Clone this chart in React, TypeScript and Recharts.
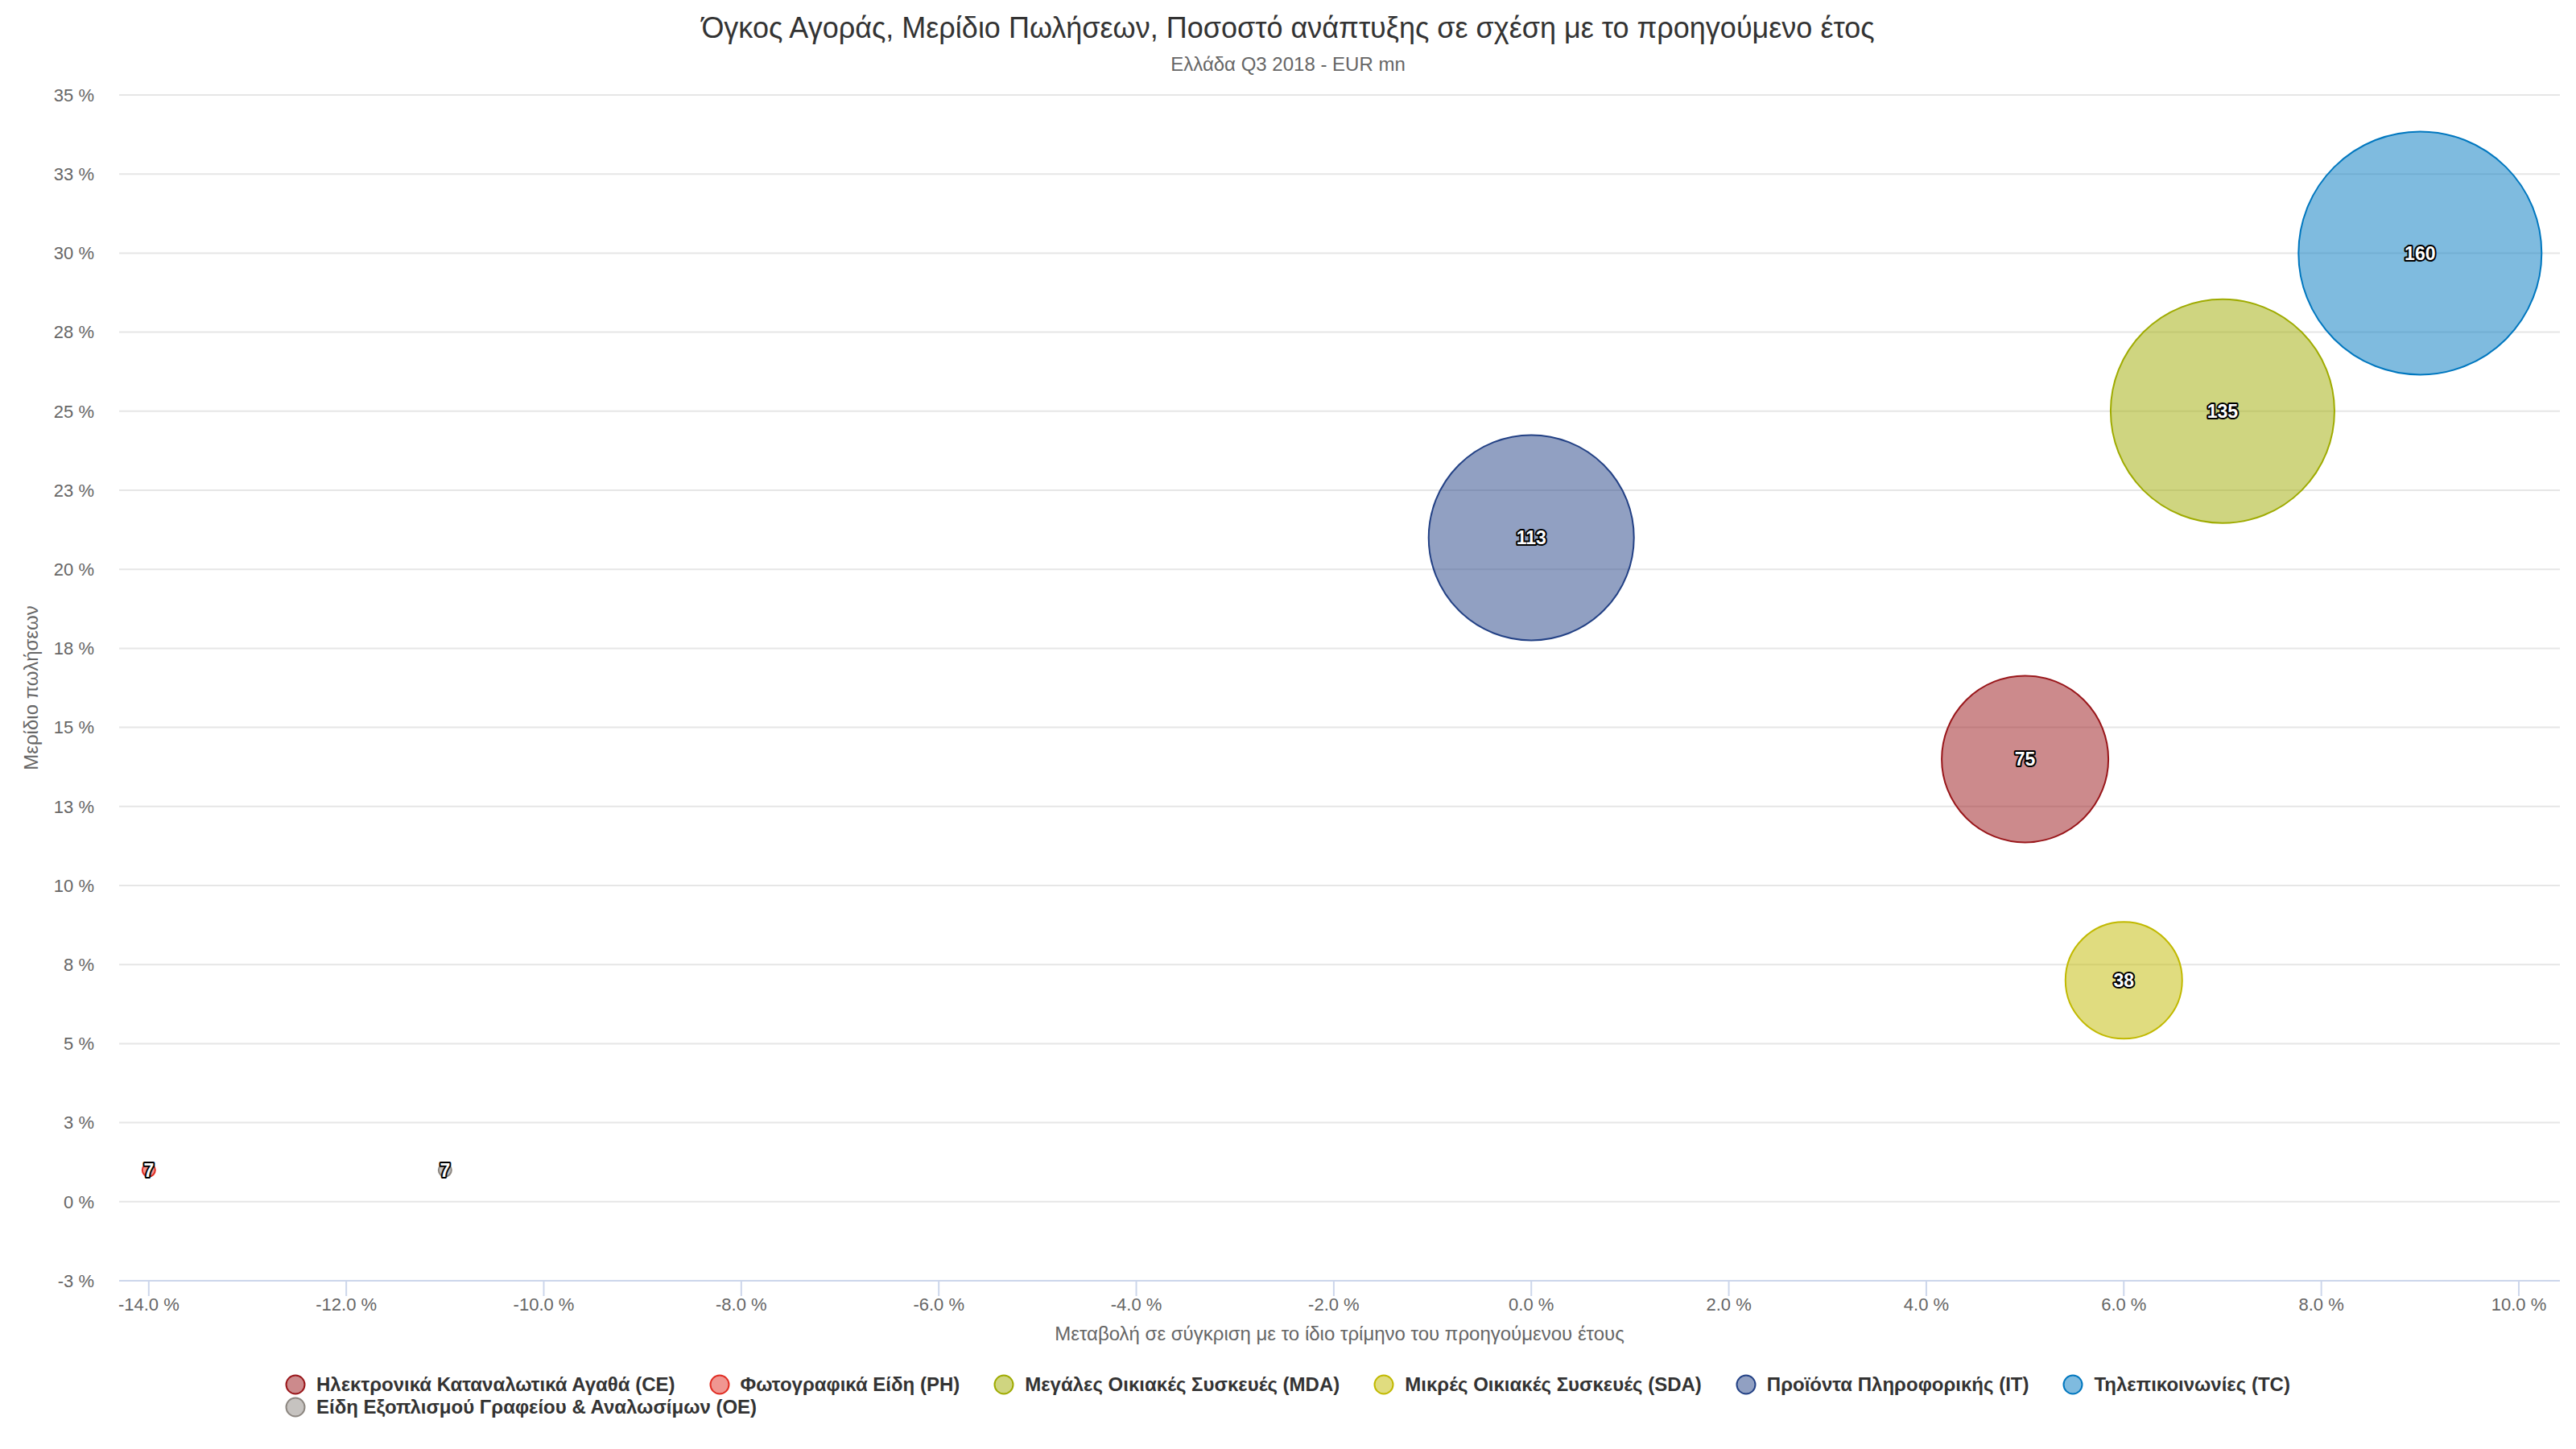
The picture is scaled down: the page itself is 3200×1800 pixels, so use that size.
import React from 'react';
import { ScatterChart, Scatter, XAxis, YAxis, ZAxis, CartesianGrid, Legend, LabelList } from 'recharts';

// ---- data ----
const categories = [
  'Ηλεκτρονικά Καταναλωτικά Αγαθά (CE)',
  'Φωτογραφικά Είδη (PH)',
  'Μεγάλες Οικιακές Συσκευές (MDA)',
  'Μικρές Οικιακές Συσκευές (SDA)',
  'Προϊόντα Πληροφορικής (IT)',
  'Τηλεπικοινωνίες (TC)',
  'Είδη Εξοπλισμού Γραφείου & Αναλωσίμων (OE)',
];
// change vs same quarter of previous year (%)
const growth = [5, -14, 7, 6, 0, 9, -11];
// sales share (%)
const share = [14, 1, 25, 7, 21, 30, 1];
// market volume (EUR mn)
const volume = [75, 7, 135, 38, 113, 160, 7];
const colors = ['#99161a', '#e12d23', '#9fab01', '#c1b900', '#234185', '#0077bf', '#8d8781'];

const xTicks = [-14, -12, -10, -8, -6, -4, -2, 0, 2, 4, 6, 8, 10];
const yTicks = [-2.5, 0, 2.5, 5, 7.5, 10, 12.5, 15, 17.5, 20, 22.5, 25, 27.5, 30, 32.5, 35];

const title = 'Όγκος Αγοράς, Μερίδιο Πωλήσεων, Ποσοστό ανάπτυξης σε σχέση με το προηγούμενο έτος';
const subtitle = 'Ελλάδα Q3 2018 - EUR mn';
const xTitle = 'Μεταβολή σε σύγκριση με το ίδιο τρίμηνο του προηγούμενου έτους';
const yTitle = 'Μερίδιο πωλήσεων';

const FONT = '"Liberation Sans", Arial, Helvetica, sans-serif';
const MIN_D = 16;
const MAX_D = 302;
const Z_LO = 100;
const Z_HI = 1100;

const seriesData = categories.map((name, i) => ({
  name,
  color: colors[i],
  data: [{ x: growth[i], y: share[i], z: volume[i] }],
}));

const Bubble = (props: any) => {
  const { cx, cy, color } = props;
  let size = props.size;
  if (size === undefined || size === null) {
    const w = props.width || 0;
    size = Math.PI * (w / 2) * (w / 2);
  }
  const pos = Math.max(0, Math.min(1, (size - Z_LO) / (Z_HI - Z_LO)));
  const r = Math.ceil(MIN_D + Math.sqrt(pos) * (MAX_D - MIN_D)) / 2;
  return (
    <circle cx={cx} cy={cy} r={r} fill={color} fillOpacity={0.5} stroke={color} strokeWidth={2} />
  );
};

const renderLegend = () => {
  return (
    <div
      style={{
        marginLeft: 354,
        width: 2800,
        display: 'flex',
        flexWrap: 'wrap',
        fontFamily: FONT,
        fontSize: 24,
        fontWeight: 700,
        color: '#333',
        lineHeight: '28px',
      }}
    >
      {seriesData.map((s, i) => (
        <div key={i} style={{ display: 'flex', alignItems: 'center', marginRight: 42, height: 28 }}>
          <svg width={26} height={26} style={{ marginRight: 13 }}>
            <circle cx={13} cy={13} r={11.5} fill={s.color} fillOpacity={0.5} stroke={s.color} strokeWidth={2} />
          </svg>
          <span style={{ whiteSpace: 'nowrap' }}>{s.name}</span>
        </div>
      ))}
    </div>
  );
};

export default function App() {
  return (
    <div style={{ position: 'absolute', left: 0, top: 0, width: 3200, height: 1800, background: '#fff' }}>
      <div
        style={{
          position: 'absolute',
          left: 0,
          top: 17,
          width: 3200,
          textAlign: 'center',
          fontFamily: FONT,
          fontSize: 36,
          lineHeight: '36px',
          color: '#333',
          whiteSpace: 'nowrap',
        }}
      >
        {title}
      </div>
      <div
        style={{
          position: 'absolute',
          left: 0,
          top: 68,
          width: 3200,
          textAlign: 'center',
          fontFamily: FONT,
          fontSize: 24,
          lineHeight: '24px',
          color: '#666',
          whiteSpace: 'nowrap',
        }}
      >
        {subtitle}
      </div>
      <ScatterChart
        width={3200}
        height={1800}
        margin={{ top: 118, right: 20, bottom: 0, left: 0 }}
        style={{ fontFamily: FONT }}
      >
        <CartesianGrid horizontal vertical={false} stroke="#e6e6e6" strokeWidth={2} />
        <XAxis
          type="number"
          dataKey="x"
          domain={[-14.3, 10.416]}
          allowDataOverflow
          ticks={xTicks}
          interval={0}
          height={209}
          tickFormatter={(v: number) => `${v.toFixed(1)} %`}
          tick={{ fill: '#666', fontSize: 22, fontFamily: FONT }}
          axisLine={{ stroke: '#ccd6eb', strokeWidth: 2 }}
          tickLine={{ stroke: '#ccd6eb', strokeWidth: 2 }}
          tickSize={19}
          tickMargin={2}
          label={{ value: xTitle, position: 'insideTop', offset: 57, fill: '#666', fontSize: 24, fontFamily: FONT }}
        />
        <YAxis
          type="number"
          dataKey="y"
          domain={[-2.5, 35]}
          allowDataOverflow
          ticks={yTicks}
          interval={0}
          width={148}
          tickFormatter={(v: number) => `${v < 0 ? -Math.round(-v) : Math.round(v)} %`}
          tick={{ fill: '#666', fontSize: 22, fontFamily: FONT }}
          axisLine={false}
          tickLine={false}
          tickSize={0}
          tickMargin={31}
          label={{
            value: yTitle,
            angle: -90,
            position: 'insideLeft',
            offset: 38,
            fill: '#666',
            fontSize: 24,
            fontFamily: FONT,
            style: { textAnchor: 'middle' },
          }}
        />
        <ZAxis type="number" dataKey="z" domain={[7, 160]} range={[Z_LO, Z_HI]} />
        <Legend
          layout="horizontal"
          verticalAlign="middle"
          align="center"
          wrapperStyle={{ left: 0, top: 1706, width: 3200 }}
          content={renderLegend}
        />
        {seriesData.map((s) => (
          <Scatter
            key={s.name}
            name={s.name}
            data={s.data}
            fill={s.color}
            stroke={s.color}
            isAnimationActive={false}
            shape={(p: any) => <Bubble {...p} color={s.color} />}
          >
            <LabelList
              dataKey="z"
              position="center"
              fill="#fff"
              stroke="#000"
              strokeWidth={4}
              style={{ paintOrder: 'stroke', strokeLinejoin: 'round', fontWeight: 700 }}
              fontSize={23}
              fontFamily={FONT}
            />
          </Scatter>
        ))}
      </ScatterChart>
    </div>
  );
}
